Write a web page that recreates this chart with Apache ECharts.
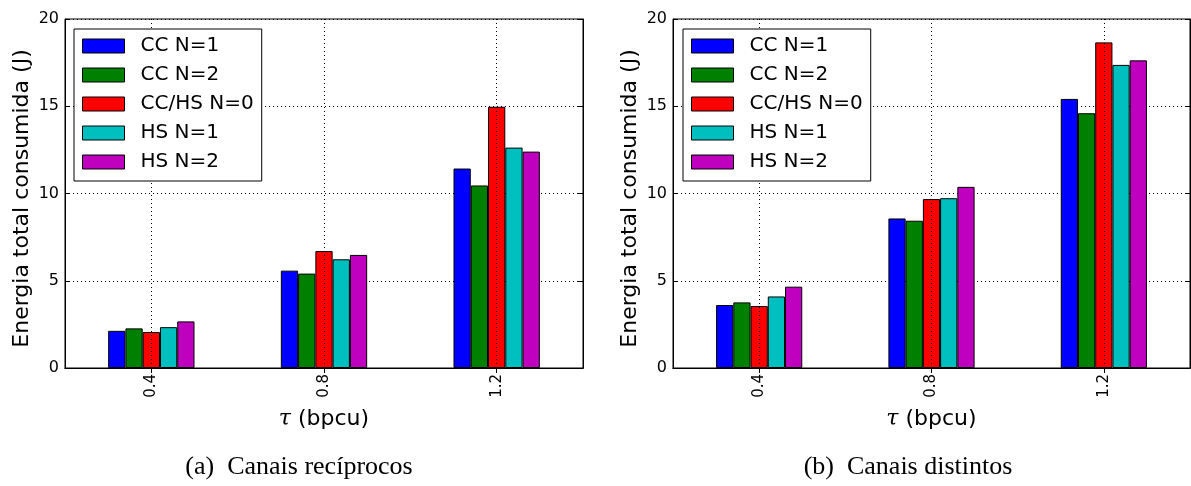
<!DOCTYPE html>
<html>
<head>
<meta charset="utf-8">
<script src="https://cdn.jsdelivr.net/npm/echarts@6/dist/echarts.min.js"></script>
<style>html,body{margin:0;padding:0;background:#fff;}#c{width:1191px;height:486px;}</style>
</head>
<body>
<div id="c"></div>
<script>
const categories = ['0.4', '0.8', '1.2'];
const seriesNames = ['CC N=1', 'CC N=2', 'CC/HS N=0', 'HS N=1', 'HS N=2'];
const colors = ['#0000ff', '#008000', '#ff0000', '#00bfbf', '#bf00bf'];
// (a) Canais recíprocos
const recCC1 = [2.13, 5.58, 11.43];
const recCC2 = [2.27, 5.41, 10.46];
const recCCHS0 = [2.06, 6.70, 14.97];
const recHS1 = [2.34, 6.23, 12.63];
const recHS2 = [2.67, 6.48, 12.40];
// (b) Canais distintos
const disCC1 = [3.61, 8.57, 15.42];
const disCC2 = [3.76, 8.44, 14.60];
const disCCHS0 = [3.55, 9.68, 18.66];
const disHS1 = [4.10, 9.73, 17.37];
const disHS2 = [4.66, 10.38, 17.63];
const yTicks = [0, 5, 10, 15, 20];
const yLabel = 'Energia total consumida (J)';
const xLabel = '{t|τ} (bpcu)';
const captions = ['(a)  Canais recíprocos', '(b)  Canais distintos'];

const FONT = 'DejaVu Sans';
const grids = [
  {left: 65, top: 19, width: 518, height: 349},
  {left: 673, top: 19, width: 517, height: 349}
];
const panels = [
  [recCC1, recCC2, recCCHS0, recHS1, recHS2],
  [disCC1, disCC2, disCCHS0, disHS1, disHS2]
];

const xAxes = [], yAxes = [], series = [];
grids.forEach((g, gi) => {
  xAxes.push({
    type: 'category', gridIndex: gi, data: categories, position: 'bottom',
    name: xLabel, nameLocation: 'middle', nameGap: 40,
    nameTextStyle: {fontFamily: FONT, fontSize: 22, color: '#000',
      rich: {t: {fontFamily: 'DejaVu Serif', fontStyle: 'italic', fontSize: 22, color: '#000'}}},
    axisLine: {show: true, lineStyle: {color: '#000', width: 1}},
    axisTick: {show: true, inside: true, alignWithLabel: true, length: 5, lineStyle: {color: '#000'}},
    axisLabel: {rotate: 90, fontFamily: FONT, fontSize: 15, color: '#000', margin: 6},
    splitLine: {show: false}
  });
  xAxes.push({
    type: 'category', gridIndex: gi, data: categories, position: 'top',
    axisLine: {show: true, lineStyle: {color: '#000', width: 1}},
    axisTick: {show: true, inside: true, alignWithLabel: true, length: 5, lineStyle: {color: '#000'}},
    axisLabel: {show: false}, splitLine: {show: false}
  });
  yAxes.push({
    type: 'value', gridIndex: gi, min: yTicks[0], max: yTicks[yTicks.length - 1], interval: 5,
    position: 'left',
    name: yLabel, nameLocation: 'middle', nameGap: 32,
    nameTextStyle: {fontFamily: FONT, fontSize: 22, color: '#000', padding: [0, 10, 0, 0]},
    axisLine: {show: true, lineStyle: {color: '#000', width: 1}},
    axisTick: {show: true, inside: true, length: 5, lineStyle: {color: '#000'}},
    axisLabel: {fontFamily: FONT, fontSize: 16, color: '#000', margin: 6},
    splitLine: {show: true, lineStyle: {color: '#000', width: 1, type: [1, 3]}}
  });
  yAxes.push({
    type: 'value', gridIndex: gi, min: yTicks[0], max: yTicks[yTicks.length - 1], interval: 5,
    position: 'right',
    axisLine: {show: true, lineStyle: {color: '#000', width: 1}},
    axisTick: {show: true, inside: true, length: 5, lineStyle: {color: '#000'}},
    axisLabel: {show: false}, splitLine: {show: false}
  });
  panels[gi].forEach((vals, si) => {
    const s = {
      type: 'bar', name: seriesNames[si], xAxisIndex: gi * 2, yAxisIndex: gi * 2,
      data: vals, barCategoryGap: '50%', barGap: '0%',
      itemStyle: {color: colors[si], borderColor: '#000', borderWidth: 1},
      emphasis: {disabled: true}, animation: false
    };
    if (si === 2) {
      s.markLine = {
        silent: true, symbol: ['none', 'none'], z: 5,
        label: {show: false},
        lineStyle: {color: '#000', width: 1, type: [1, 3]},
        emphasis: {disabled: true},
        data: categories.map(c => ({xAxis: c}))
      };
    }
    series.push(s);
  });
});

const legendCommon = {
  orient: 'vertical', top: 29, itemWidth: 42, itemHeight: 14, itemGap: 9,
  backgroundColor: '#fff', borderColor: '#000', borderWidth: 1,
  padding: [7, 8, 9, 8], z: 10, selectedMode: false,
  icon: 'rect',
  textStyle: {fontFamily: FONT, fontSize: 20, color: '#000', padding: [0, 0, 0, 11]},
  data: seriesNames.map(n => ({name: n, itemStyle: {borderColor: '#000', borderWidth: 1}}))
};

const chart = echarts.init(document.getElementById('c'), null, {renderer: 'canvas'});
chart.setOption({
  animation: false,
  color: colors,
  grid: grids.map(g => Object.assign({show: true, borderColor: '#000', borderWidth: 1, backgroundColor: '#fff'}, g)),
  xAxis: xAxes,
  yAxis: yAxes,
  legend: [
    Object.assign({left: 74}, legendCommon),
    Object.assign({left: 683}, legendCommon)
  ],
  series: series,
  graphic: [
    {type: 'text', x: 299, y: 467, style: {text: captions[0], font: '26px "Liberation Serif"', fill: '#000', textAlign: 'center', textVerticalAlign: 'middle'}},
    {type: 'text', x: 908, y: 467, style: {text: captions[1], font: '26px "Liberation Serif"', fill: '#000', textAlign: 'center', textVerticalAlign: 'middle'}}
  ]
});
</script>
</body>
</html>
